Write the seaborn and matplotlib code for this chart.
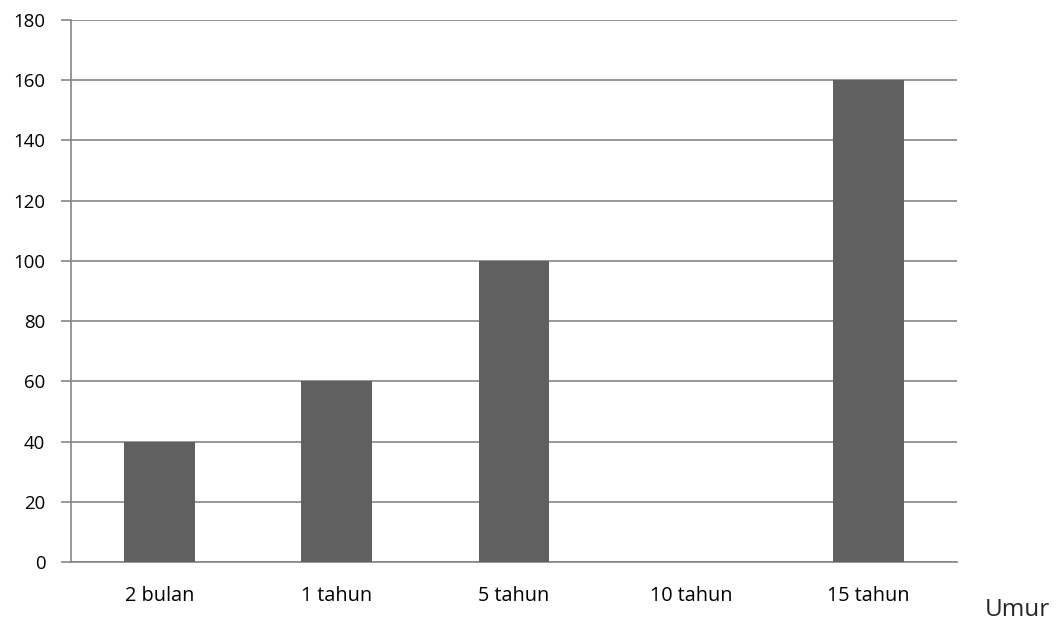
import numpy as np
import pandas as pd
import matplotlib.pyplot as plt
import seaborn as sns

categories = ["2 bulan", "1 tahun", "5 tahun", "10 tahun", "15 tahun"]
values = [40, 60, 100, 0, 160]
y_ticks = [0, 20, 40, 60, 80, 100, 120, 140, 160, 180]

df = pd.DataFrame({"Umur": categories, "Nilai": values})

sns.set_style("white")
plt.rcParams["font.family"] = ["Open Sans", "DejaVu Sans"]

grid_color = "#868686"

fig = plt.figure(figsize=(10.57, 6.27), dpi=100)
ax = fig.add_axes([0.0672, 0.1037, 0.8382, 0.8644])

sns.barplot(data=df, x="Umur", y="Nilai", color="#606060", width=0.4,
            saturation=1, linewidth=0, ax=ax, zorder=3)

ax.set_ylim(0, 180)
ax.set_xlim(-0.5, len(categories) - 0.5)
ax.set_yticks(y_ticks)
ax.yaxis.grid(True, color=grid_color, linewidth=1.2, zorder=0)
ax.set_axisbelow(True)

ax.set_xticks(np.arange(-0.5, len(categories)), minor=True)
ax.tick_params(axis="x", which="major", length=0, pad=17, labelsize=14.3,
               colors="black")
ax.tick_params(axis="x", which="minor", length=8, width=1.2, color=grid_color,
               direction="out")
ax.tick_params(axis="y", length=7, width=1.2, color=grid_color, pad=11.5,
               labelsize=13.4, labelcolor="black", left=True)

for side in ["top", "right"]:
    ax.spines[side].set_visible(False)
for side in ["left", "bottom"]:
    ax.spines[side].set_color(grid_color)
    ax.spines[side].set_linewidth(1.2)

ax.set_xlabel("")
ax.set_ylabel("")
fig.text(985 / 1057, 0.018, "Umur", fontsize=17.5, ha="left", va="baseline")

fig.savefig("out.png", dpi=100)
